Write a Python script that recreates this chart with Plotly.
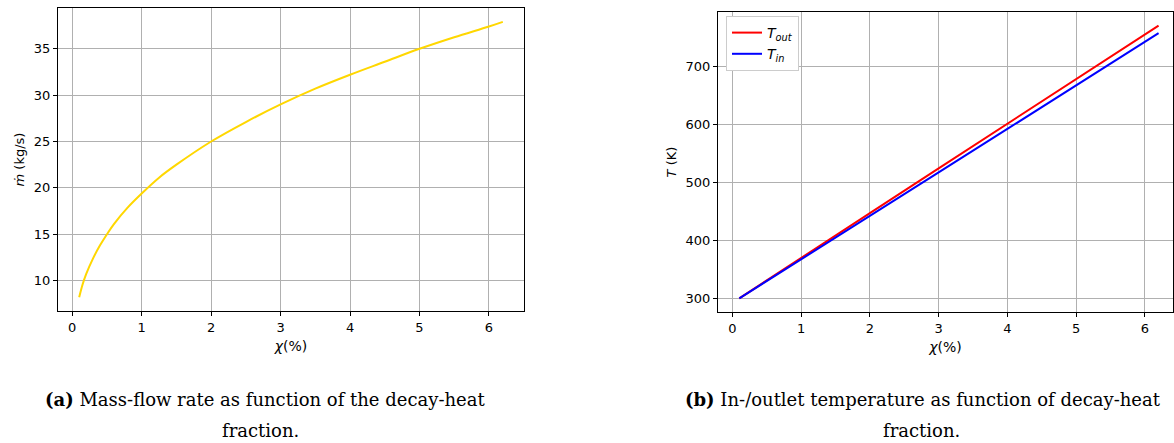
import plotly.graph_objects as go

# ---- data ----
chi_m = [0.1, 0.15, 0.2, 0.3, 0.4, 0.5, 0.6, 0.8, 1.0, 1.25, 1.5, 2.0, 2.5, 3.0, 3.5, 4.0, 4.5, 5.0, 5.5, 6.0, 6.2]
mdot = [8.2, 9.6, 10.7, 12.4, 13.8, 15.0, 16.1, 17.9, 19.4, 21.1, 22.5, 25.0, 27.1, 29.0, 30.7, 32.2, 33.6, 35.0, 36.25, 37.4, 37.9]

chi_t = [0.1, 1.0, 2.0, 3.0, 4.0, 5.0, 6.2]
t_out = [300, 369, 447, 524, 601, 678, 770]
t_in = [300, 367, 442, 517, 592, 667, 757]

W, H = 1174, 443
def px(x): return x / W
def py(y): return 1 - y / H

fig = go.Figure()
fig.add_trace(go.Scatter(x=chi_m, y=mdot, mode="lines", line=dict(color="gold", width=2, shape="spline"),
                         showlegend=False, xaxis="x", yaxis="y"))
fig.add_trace(go.Scatter(x=chi_t, y=t_out, mode="lines", line=dict(color="red", width=2),
                         name="<i>T</i><sub><i>out</i></sub>", xaxis="x2", yaxis="y2"))
fig.add_trace(go.Scatter(x=chi_t, y=t_in, mode="lines", line=dict(color="blue", width=2),
                         name="<i>T</i><sub><i>in</i></sub>", xaxis="x2", yaxis="y2"))

tickfont = dict(family="DejaVu Sans", size=13, color="black")
common = dict(showline=True, linecolor="black", linewidth=1, mirror=True, ticks="outside",
              ticklen=4, tickcolor="black", showgrid=True, gridcolor="#b0b0b0", gridwidth=0.8,
              zeroline=False, tickfont=tickfont)

fig.update_layout(
    width=W, height=H, margin=dict(l=0, r=0, t=0, b=0),
    paper_bgcolor="white", plot_bgcolor="white",
    font=dict(family="DejaVu Sans", size=13, color="black"),
    xaxis=dict(domain=[px(58), px(524)], range=[-0.205, 6.505], tickvals=[0, 1, 2, 3, 4, 5, 6],
               title=dict(text="<i>χ</i>(%)", standoff=7, font=dict(size=14)), anchor="y", **common),
    yaxis=dict(domain=[py(311), py(8)], range=[6.72, 39.4], tickvals=[10, 15, 20, 25, 30, 35],
               title=dict(text="<i>ṁ</i> (kg/s)", standoff=6, font=dict(size=13)), anchor="x", **common),
    xaxis2=dict(domain=[px(718), px(1173)], range=[-0.21, 6.41], tickvals=[0, 1, 2, 3, 4, 5, 6],
                title=dict(text="<i>χ</i>(%)", standoff=7, font=dict(size=14)), anchor="y2", **common),
    yaxis2=dict(domain=[py(312), py(12)], range=[276.5, 793.5], tickvals=[300, 400, 500, 600, 700],
                title=dict(text="<i>T</i> (K)", standoff=6, font=dict(size=13)), anchor="x2", **common),
    legend=dict(x=px(726), y=py(16), xanchor="left", yanchor="top", bgcolor="white",
                bordercolor="#cccccc", borderwidth=1, itemwidth=30,
                font=dict(family="DejaVu Sans", size=14), tracegroupgap=0),
)

capfont = dict(family="DejaVu Serif", size=18, color="black")
for x, y, t in [(265, 399, "<b>(a)</b> Mass-flow rate as function of the decay-heat"),
                (260, 430, "fraction."),
                (923, 399, "<b>(b)</b> In-/outlet temperature as function of decay-heat"),
                (921, 430, "fraction.")]:
    fig.add_annotation(x=px(x), y=py(y), xref="paper", yref="paper", xanchor="center", yanchor="middle",
                       showarrow=False, font=capfont, text=t)

fig.write_html("out.html")
